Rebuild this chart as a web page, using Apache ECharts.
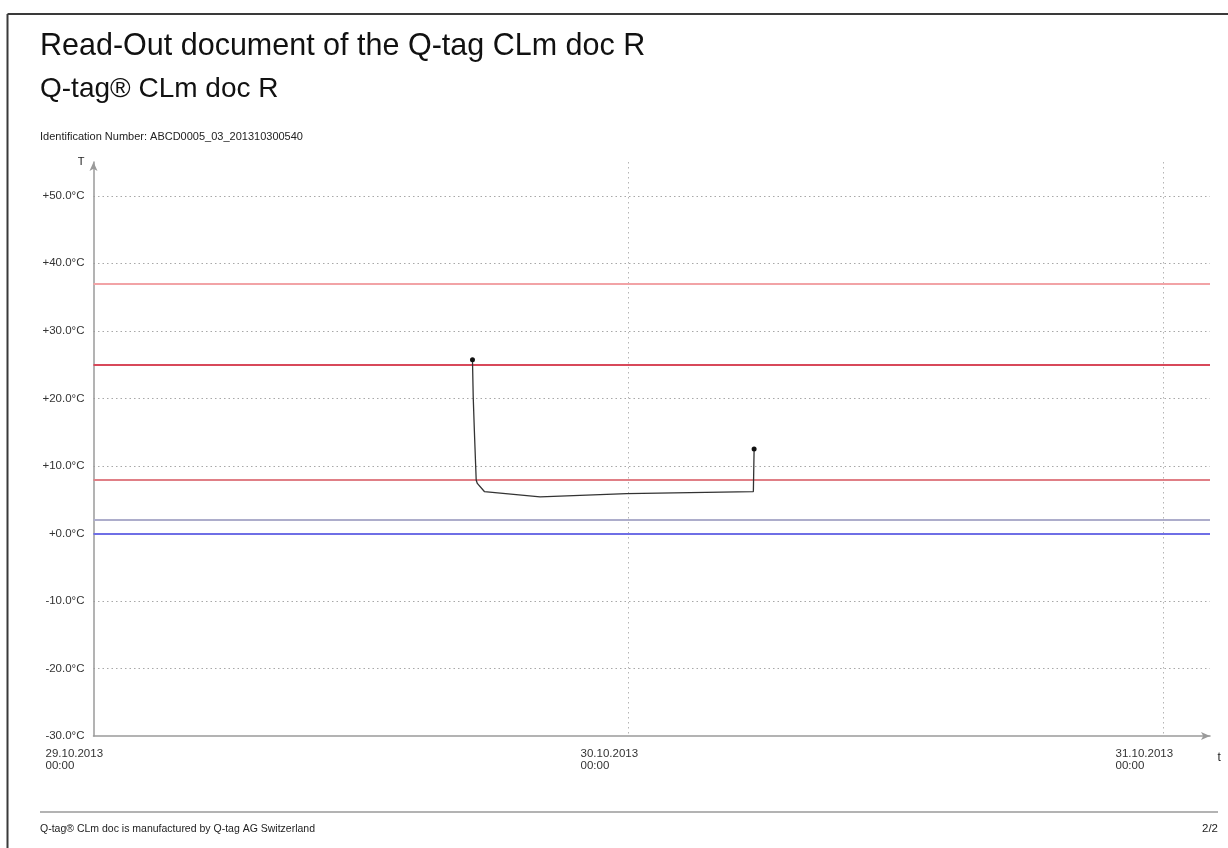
<!DOCTYPE html>
<html>
<head>
<meta charset="utf-8">
<script src="https://cdn.jsdelivr.net/npm/echarts@6/dist/echarts.min.js"></script>
<style>
html,body{margin:0;padding:0;background:#fff;}
#chart{width:1228px;height:848px;}
</style>
</head>
<body>
<div id="chart"></div>
<script>
// ---- data ----
const times = ['2013-10-29 17:00','2013-10-29 17:02','2013-10-29 17:05','2013-10-29 17:10','2013-10-29 17:13','2013-10-29 17:32','2013-10-29 20:02','2013-10-29 23:55','2013-10-30 05:36','2013-10-30 05:38'];
const temps = [25.7, 20.2, 15.3, 7.9, 7.4, 6.2, 5.4, 5.9, 6.2, 12.5];
const limitValues = [37, 25, 8, 2, 0];
const limitColors = ['#f2a3a6', '#d8485a', '#e07f86', '#adadcb', '#6f6fe6'];
const xStart = '2013-10-29 00:00';
const xEnd = '2013-10-31 02:05';
const yMin = -30, yMax = 55, yStep = 10;

function ts(s){
  const [d,t] = s.split(' ');
  const [Y,M,D] = d.split('-').map(Number);
  const [h,m] = t.split(':').map(Number);
  return Date.UTC(Y, M-1, D, h, m);
}
const DAY = 86400000;
const FONT = "'Liberation Sans', Arial, Helvetica, sans-serif";
const pad = n => (n<10?'0':'')+n;

const chart = echarts.init(document.getElementById('chart'));
const seriesData = times.map((t,i)=>[ts(t), temps[i]]);
const last = seriesData.length-1;

chart.setOption({
  backgroundColor:'#fff',
  animation:false,
  textStyle:{fontFamily:FONT},
  title:[
    {text:'Read-Out document of the Q-tag CLm doc R', left:40, top:31, padding:0,
     textStyle:{fontSize:30.5, fontWeight:'normal', color:'#111', fontFamily:FONT}},
    {text:'Q-tag® CLm doc R', left:40, top:75, padding:0,
     textStyle:{fontSize:28, fontWeight:'normal', color:'#111', fontFamily:FONT}},
    {text:'Identification Number: ABCD0005_03_201310300540', left:40, top:131, padding:0,
     textStyle:{fontSize:11, fontWeight:'normal', color:'#222', fontFamily:FONT}},
    {text:'Q-tag® CLm doc is manufactured by Q-tag AG Switzerland', left:40, top:824, padding:0,
     textStyle:{fontSize:10.5, fontWeight:'normal', color:'#222', fontFamily:FONT}},
    {text:'2/2', right:10, top:823, padding:0,
     textStyle:{fontSize:11.5, fontWeight:'normal', color:'#222', fontFamily:FONT}}
  ],
  graphic:[
    {type:'line', shape:{x1:7.5,y1:14,x2:1228,y2:14}, style:{stroke:'#3a3a3a', lineWidth:2}},
    {type:'line', shape:{x1:7.5,y1:14,x2:7.5,y2:848}, style:{stroke:'#3a3a3a', lineWidth:2}},
    {type:'line', shape:{x1:40,y1:812,x2:1218,y2:812}, style:{stroke:'#9a9a9a', lineWidth:1.5}}
  ],
  grid:{left:93.5, right:18, top:162, bottom:112, containLabel:false},
  xAxis:{
    type:'value', min:ts(xStart), max:ts(xEnd), interval:DAY,
    name:'t', nameLocation:'end', nameGap:2,
    nameTextStyle:{color:'#222', fontSize:12, align:'center', verticalAlign:'top', padding:[16,0,0,0]},
    axisLine:{show:true, onZero:false, symbol:['none','arrow'], symbolSize:[6,9], lineStyle:{color:'#9a9a9a', width:1.5}},
    axisTick:{show:false},
    axisLabel:{
      showMaxLabel:false, margin:12, color:'#333',
      formatter:function(v){
        if (v % DAY !== 0) return '';
        const d = new Date(v);
        return '{d|'+pad(d.getUTCDate())+'.'+pad(d.getUTCMonth()+1)+'.'+d.getUTCFullYear()+'}\n{d|'+pad(d.getUTCHours())+':'+pad(d.getUTCMinutes())+'}';
      },
      rich:{d:{width:96, align:'left', fontSize:11.5, lineHeight:12, color:'#333', fontFamily:FONT}}
    },
    splitLine:{show:true, showMinLine:false, showMaxLine:false, lineStyle:{color:'#b5b5b5', type:[1.5,3.5], width:1}}
  },
  yAxis:{
    type:'value', min:yMin, max:yMax, interval:yStep,
    name:'T', nameLocation:'end', nameGap:0,
    nameTextStyle:{color:'#222', fontSize:11, align:'right', verticalAlign:'middle', padding:[0,9,0,0]},
    axisLine:{show:true, onZero:false, symbol:['none','arrow'], symbolSize:[6,9], lineStyle:{color:'#9a9a9a', width:1.5}},
    axisTick:{show:false},
    axisLabel:{
      showMaxLabel:false, margin:9, color:'#333', fontSize:11.5, fontFamily:FONT,
      formatter:function(v){
        if (v % yStep !== 0) return '';
        return (v>=0?'+':'') + v.toFixed(1) + '°C';
      }
    },
    splitLine:{show:true, showMinLine:false, showMaxLine:false, lineStyle:{color:'#a8a8a8', type:[1.5,3], width:1}}
  },
  series:[
    {
      type:'line', data:seriesData, smooth:false,
      symbol:'circle',
      symbolSize:function(v, p){ return (p.dataIndex===0 || p.dataIndex===last) ? 5 : 0; },
      itemStyle:{color:'#111'},
      lineStyle:{color:'#333', width:1.3},
      z:5,
      markLine:{
        silent:true, symbol:['none','none'], label:{show:false}, animation:false,
        data: limitValues.map((v,i)=>({yAxis:v, lineStyle:{color:limitColors[i], width:2, type:'solid'}}))
      }
    }
  ]
});
</script>
</body>
</html>
